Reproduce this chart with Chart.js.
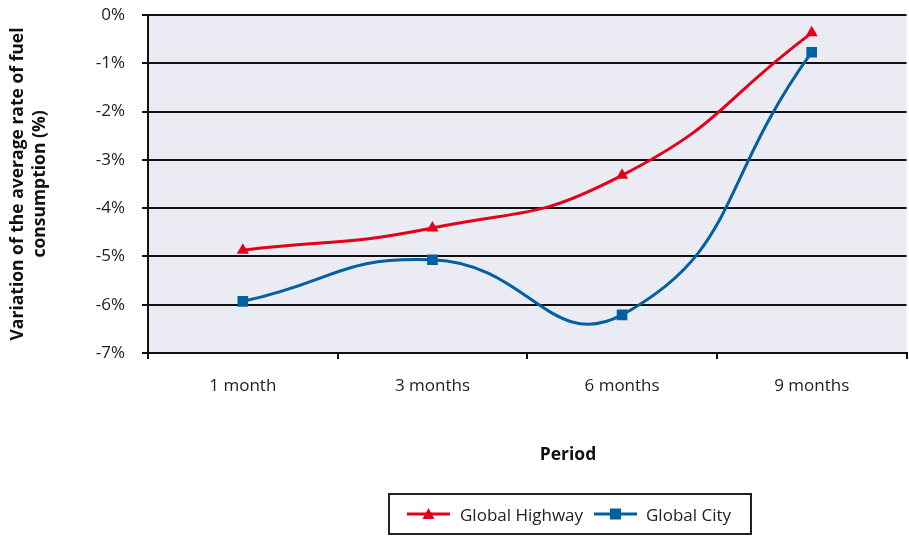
<!DOCTYPE html>
<html>
<head>
<meta charset="utf-8">
<script src="https://cdn.jsdelivr.net/npm/chart.js@4"></script>
<style>
  html, body { margin: 0; padding: 0; background: #fff; overflow: hidden; }
  #wrap { position: relative; width: 909px; height: 537px; overflow: hidden; }
  #fuelChart { display: block; }
  #xTitle {
    position: absolute; left: 468px; top: 441px; width: 200px;
    line-height: 24px; text-align: center;
    font-family: "Open Sans", sans-serif; font-size: 17.5px; font-weight: bold; color: #111;
  }
  #legend {
    position: absolute; left: 388px; top: 493px;
    width: 360px; height: 38px;
    border: 2px solid #222;
    font-family: "Open Sans", sans-serif; font-size: 17px; color: #222;
  }
  .item { position: absolute; top: 0; height: 38px; display: flex; align-items: center; white-space: nowrap; }
  .item svg { display: block; }
</style>
</head>
<body>
<div id="wrap">
  <!-- canvas is a little wider than the page so the plot area reaches the right edge -->
  <canvas id="fuelChart" width="914" height="537"></canvas>
  <div id="xTitle">Period</div>
  <div id="legend">
    <div class="item" style="left:17px">
      <svg width="43" height="14"><line x1="0" y1="7" x2="43" y2="7" stroke="#E2001A" stroke-width="3"/><polygon points="21.5,1 27.5,12 15.5,12" fill="#E2001A"/></svg>
    </div>
    <div class="item" style="left:70px">Global Highway</div>
    <div class="item" style="left:204px">
      <svg width="43" height="14"><line x1="0" y1="7" x2="43" y2="7" stroke="#0060A0" stroke-width="3"/><rect x="16" y="1.5" width="11" height="11" fill="#0060A0"/></svg>
    </div>
    <div class="item" style="left:256px">Global City</div>
  </div>
</div>
<script>
// Change in average fuel consumption rate (%) by period
const periods = ['1 month', '3 months', '6 months', '9 months'];
const highway = [-4.87, -4.41, -3.32, -0.37];
const city = [-5.93, -5.07, -6.21, -0.77];
const yMin = -7;
const yMax = 0;
const yStep = 1;

const fontFamily = '"Open Sans", sans-serif';

// Fill the plot area with the light lavender background
const plotBg = {
    id: 'plotBg',
    beforeDraw(chart) {
        const { ctx, chartArea: a } = chart;
        ctx.save();
        ctx.fillStyle = '#EBEBF3';
        ctx.fillRect(a.left, a.top, a.right - a.left, a.bottom - a.top);
        ctx.restore();
    }
};

const ctx = document.getElementById('fuelChart').getContext('2d');
const fuelChart = new Chart(ctx, {
    type: 'line',
    data: {
        labels: periods,
        datasets: [{
            label: 'Global Highway',
            data: highway,
            borderColor: '#E2001A',
            backgroundColor: '#E2001A',
            borderWidth: 3,
            pointStyle: 'triangle',
            pointRadius: 7,
            pointBorderWidth: 0,
            tension: 0.5,
            fill: false,
        }, {
            label: 'Global City',
            data: city,
            borderColor: '#0060A0',
            backgroundColor: '#0060A0',
            borderWidth: 3,
            pointStyle: 'rect',
            pointRadius: 7.5,
            pointBorderWidth: 0,
            tension: 0.5,
            fill: false,
        }],
    },
    options: {
        responsive: false,
        animation: false,
        layout: { padding: { top: 15, right: 0, bottom: 0, left: 0 } },
        plugins: {
            legend: { display: false },
            tooltip: { enabled: false },
        },
        scales: {
            x: {
                offset: true,
                grid: { offset: true, drawOnChartArea: false, drawTicks: true, tickLength: 6, color: '#111', lineWidth: 2 },
                border: { color: '#111', width: 2 },
                ticks: { color: '#222', font: { family: fontFamily, size: 17 }, padding: 17, maxRotation: 0 },
                afterFit(scale) {
                    scale.height = 184;
                    scale.paddingLeft = 0;
                    scale.paddingRight = 0;
                },
            },
            y: {
                min: yMin,
                max: yMax,
                ticks: {
                    stepSize: yStep,
                    callback: v => v + '%',
                    padding: 17,
                    color: '#222',
                    font: { family: fontFamily, size: 17 },
                },
                grid: { color: '#111', lineWidth: 2, tickLength: 6 },
                border: { color: '#111', width: 2 },
                title: {
                    display: true,
                    text: ['Variation of the average rate of fuel', 'consumption (%)'],
                    color: '#111',
                    font: { family: fontFamily, size: 17.5, weight: 'bold', lineHeight: 1.26 },
                    padding: { top: 7, bottom: 0 },
                },
                afterFit(scale) {
                    scale.width = 148;
                    scale.paddingTop = 0;
                    scale.paddingBottom = 0;
                },
            },
        },
    },
    plugins: [plotBg],
});
</script>
</body>
</html>
